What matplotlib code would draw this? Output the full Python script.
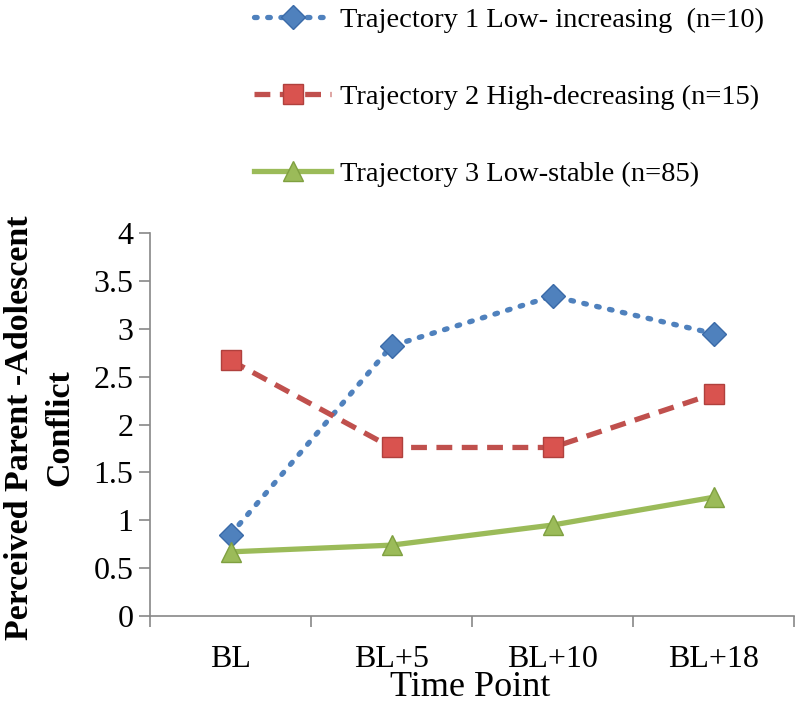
import matplotlib
matplotlib.use("Agg")
import matplotlib.pyplot as plt

time_points = ["BL", "BL+5", "BL+10", "BL+18"]
traj1 = [0.85, 2.82, 3.34, 2.95]
traj2 = [2.67, 1.76, 1.76, 2.32]
traj3 = [0.67, 0.74, 0.95, 1.24]
labels = ["Trajectory 1 Low- increasing  (n=10)",
          "Trajectory 2 High-decreasing (n=15)",
          "Trajectory 3 Low-stable (n=85)"]
yticks = [0, 0.5, 1, 1.5, 2, 2.5, 3, 3.5, 4]

plt.rcParams['font.family'] = ['Liberation Serif', 'DejaVu Serif']

fig = plt.figure(figsize=(8, 7.14), dpi=100)
W, H = 800, 714
ax = fig.add_axes([150/W, 1-616/H, (794-150)/W, (616-233)/H])

x = list(range(len(time_points)))
blue, red, green = '#4F81BD', '#C0504D', '#9BBB59'
l1, = ax.plot(x, traj1, linestyle=(0, (0.5, 2.0)), dash_capstyle='round', color=blue, lw=3.8,
              marker='D', markersize=12, markerfacecolor=blue, markeredgecolor='#3A6AA8', markeredgewidth=1, zorder=3)
l2, = ax.plot(x, traj2, linestyle=(0, (3, 1.8)), color=red, lw=3.8,
              marker='s', markersize=15, markerfacecolor='#D9534F', markeredgecolor='#B0403D', markeredgewidth=1, zorder=3)
l3, = ax.plot(x, traj3, linestyle='-', color=green, lw=3.8,
              marker='^', markersize=15, markerfacecolor='#9BBB59', markeredgecolor='#7FA040', markeredgewidth=1, zorder=3)

ax.set_xlim(-0.5, 3.5)
ax.set_ylim(0, 4)
ax.set_yticks(yticks)
ax.set_yticklabels([f"{v:g}" for v in yticks], fontsize=23)
ax.set_xticks(x)
ax.set_xticklabels(time_points, fontsize=23)
ax.set_xticks([-0.5, 0.5, 1.5, 2.5, 3.5], minor=True)
ax.tick_params(axis='x', which='major', length=0, pad=21)
ax.tick_params(axis='x', which='minor', length=8, color='#888888', width=1.2)
ax.tick_params(axis='y', length=8, color='#888888', width=1.2, pad=4)
for s in ['top', 'right']:
    ax.spines[s].set_visible(False)
for s in ['left', 'bottom']:
    ax.spines[s].set_color('#888888')
    ax.spines[s].set_linewidth(1.2)

fig.text(470/W, 1-696/H, "Time Point", fontsize=26, ha='center', va='baseline')
fig.text(20/W, 1-428/H, "Perceived Parent -Adolescent", fontsize=24.5, fontweight='bold',
         rotation=90, ha='center', va='center')
fig.text(60/W, 1-428/H, "Conflict", fontsize=24.5, fontweight='bold',
         rotation=90, ha='center', va='center')

leg = fig.legend([l1, l2, l3], labels, loc='upper left', bbox_to_anchor=(243/W, 1+4/H),
                 frameon=False, fontsize=20.5, handlelength=2.7, labelspacing=1.78,
                 handletextpad=0.3, borderaxespad=0)

fig.savefig("out.png", dpi=100)
